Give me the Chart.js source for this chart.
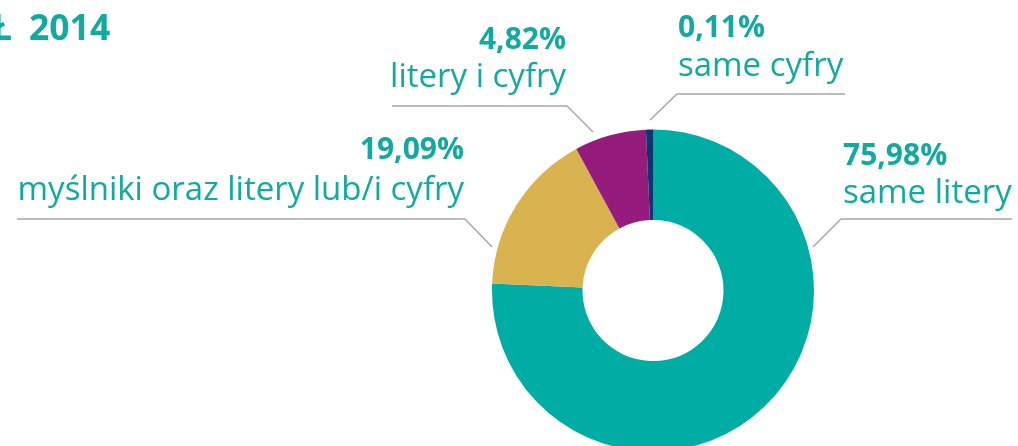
<!DOCTYPE html>
<html>
<head>
<meta charset="utf-8">
<script src="https://cdn.jsdelivr.net/npm/chart.js@4"></script>
<style>
html, body { margin: 0; padding: 0; overflow: hidden; background: #fff; }
#wrap { width: 1018px; height: 460px; }
</style>
</head>
<body>
<div id="wrap"><canvas id="myChart"></canvas></div>
<script>
var categories = ['same litery', 'myślniki oraz litery lub/i cyfry', 'litery i cyfry', 'same cyfry'];
var percentLabels = ['75,98%', '19,09%', '4,82%', '0,11%'];
// slice sizes as drawn in the picture
var values = [75.7, 16.4, 7.2, 0.7];
var titleParts = ['Ł', '2014'];

var sliceColors = ['#00ADA5', '#D8B350', '#951B7D', '#0E3570'];
var textColor = '#12A99F';

// where each label sits and how its leader line runs
var callouts = [
    { x: 843, align: 'left', y1: 165, y2: 203, line: [[1012, 219], [841, 219], [813, 247]] },
    { x: 464, align: 'right', y1: 159, y2: 200, line: [[17, 219], [465, 219], [492, 247]] },
    { x: 566, align: 'right', y1: 49, y2: 87, line: [[392, 106], [567, 106], [593, 132]] },
    { x: 678, align: 'left', y1: 37, y2: 76, line: [[845, 94], [677, 94], [650, 120]] }
];

var calloutPlugin = {
    id: 'callouts',
    afterDraw: function(chart) {
        var c = chart.ctx;
        c.save();
        c.fillStyle = textColor;
        c.textBaseline = 'alphabetic';
        // title, cut at the left edge like the source
        c.font = 'bold 35.5px "Open Sans"';
        c.textAlign = 'right';
        c.fillText(titleParts[0], 12, 40);
        c.textAlign = 'left';
        c.fillText(titleParts[1], 29, 40);

        c.strokeStyle = '#A8A8A8';
        c.lineWidth = 1.5;
        callouts.forEach(function(o, i) {
            c.beginPath();
            c.moveTo(o.line[0][0], o.line[0][1]);
            for (var k = 1; k < o.line.length; k++) c.lineTo(o.line[k][0], o.line[k][1]);
            c.stroke();
            c.textAlign = o.align;
            c.font = 'bold 30px "Open Sans"';
            c.fillText(percentLabels[i], o.x, o.y1);
            c.font = '33px "Open Sans"';
            c.fillText(categories[i], o.x, o.y2);
        });
        c.restore();
    }
};

var ctx = document.getElementById('myChart').getContext('2d');
var myChart = new Chart(ctx, {
    type: 'doughnut',
    data: {
        labels: categories,
        datasets: [{
            data: values,
            backgroundColor: sliceColors,
            borderWidth: 0
        }]
    },
    options: {
        responsive: true,
        maintainAspectRatio: false,
        animation: false,
        cutout: '43.8%',
        layout: {
            padding: { left: 492, right: 204, top: 129.5, bottom: 8.5 }
        },
        plugins: {
            legend: { display: false },
            tooltip: { enabled: false },
            title: { display: false }
        }
    },
    plugins: [calloutPlugin]
});
</script>
</body>
</html>
